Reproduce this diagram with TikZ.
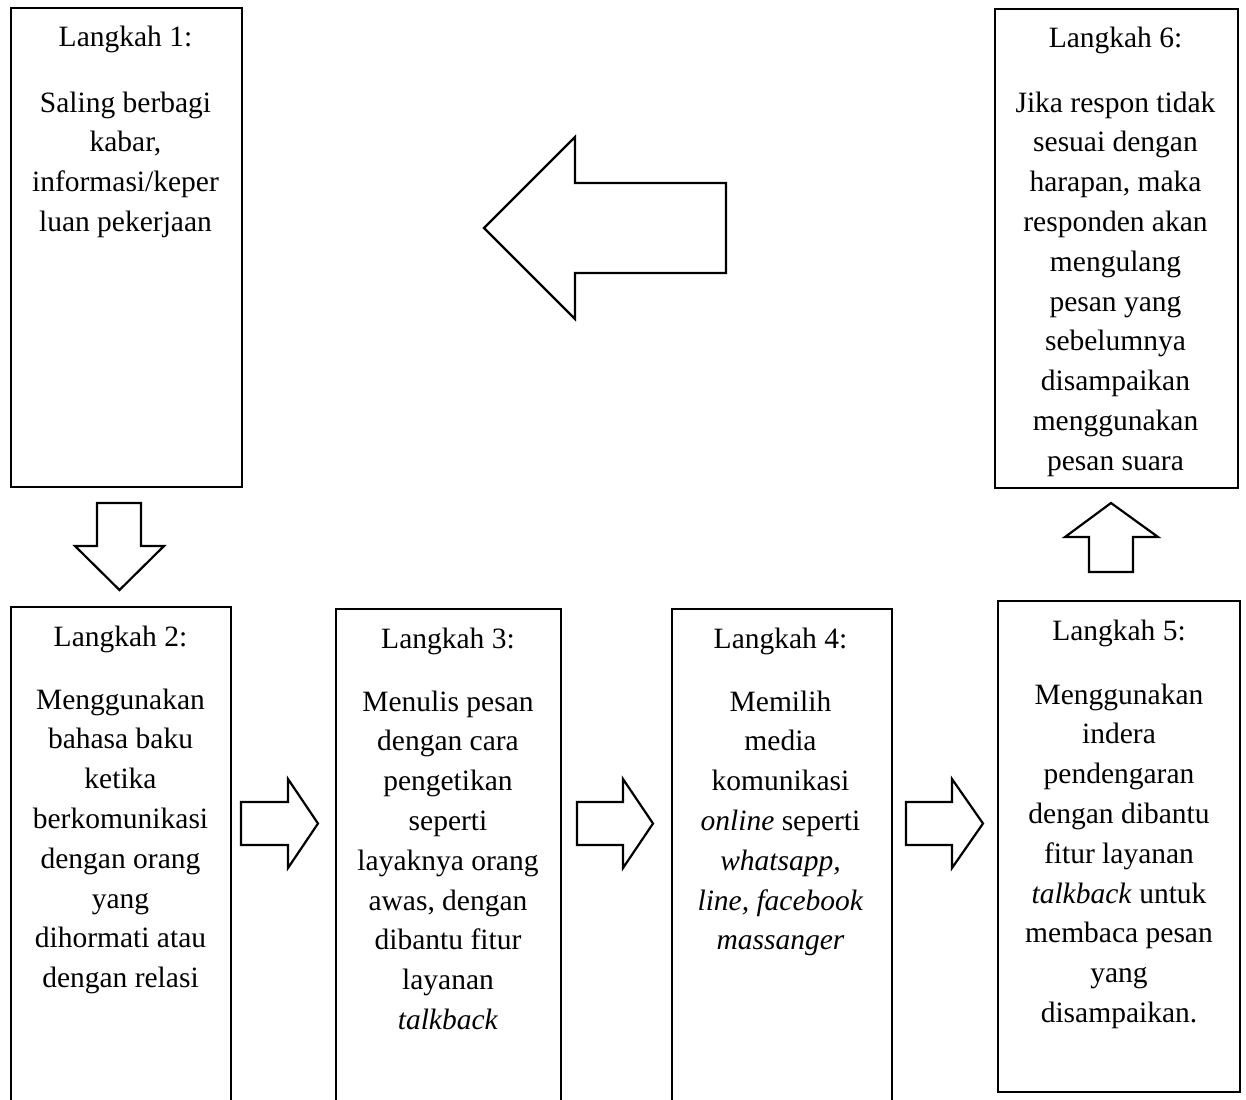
\documentclass[tikz,border=0pt]{standalone}
\usepackage{fontspec}
\setmainfont{Liberation Serif}
\begin{document}
\begin{tikzpicture}[x=1pt,y=-1pt,
  stepbox/.style={draw, line width=1.6pt, inner sep=0pt, anchor=north west},
  titletxt/.style={inner sep=0pt, anchor=base, font=\fontsize{29.5}{39.8}\selectfont},
  bodytxt/.style={inner sep=0pt, anchor=north, align=center, font=\fontsize{29.5}{39.8}\selectfont},
  blockarrow/.style={draw, line width=2.2pt, fill=white, line join=miter}]
\useasboundingbox (0,0) rectangle (1246,1099);
\clip (0,0) rectangle (1246,1099);
% boxes
\node[stepbox, minimum width=231pt, minimum height=479pt] (b1) at (10,7) {};
\node[stepbox, minimum width=220pt, minimum height=510pt] (b2) at (10,606) {};
\node[stepbox, minimum width=225pt, minimum height=510pt] (b3) at (335,608) {};
\node[stepbox, minimum width=220pt, minimum height=510pt] (b4) at (671,608) {};
\node[stepbox, minimum width=242pt, minimum height=491pt] (b5) at (997,600) {};
\node[stepbox, minimum width=243pt, minimum height=479pt] (b6) at (994,8) {};
% titles
\node[titletxt] (t1) at (125.5,47) {Langkah 1:};
\node[titletxt] (t2) at (120.5,646) {Langkah 2:};
\node[titletxt] (t3) at (448,648) {Langkah 3:};
\node[titletxt] (t4) at (780.5,648) {Langkah 4:};
\node[titletxt] (t5) at (1119,640) {Langkah 5:};
\node[titletxt] (t6) at (1115.5,48) {Langkah 6:};
% bodies
\node[bodytxt] (x1) at (125.5,84.1) {\strut Saling berbagi\\kabar,\\informasi/keper\\luan pekerjaan};
\node[bodytxt] (x2) at (120.5,681.1) {\strut Menggunakan\\bahasa baku\\ketika\\berkomunikasi\\dengan orang\\yang\\dihormati atau\\dengan relasi};
\node[bodytxt] (x3) at (448,683.1) {\strut Menulis pesan\\dengan cara\\pengetikan\\seperti\\layaknya orang\\awas, dengan\\dibantu fitur\\layanan\\\textit{talkback}};
\node[bodytxt] (x4) at (780.5,683.1) {\strut Memilih\\media\\komunikasi\\\textit{online} seperti\\\textit{whatsapp,}\\\textit{line, facebook}\\\textit{massanger}};
\node[bodytxt] (x5) at (1119,676.1) {\strut Menggunakan\\indera\\pendengaran\\dengan dibantu\\fitur layanan\\\textit{talkback} untuk\\membaca pesan\\yang\\disampaikan.};
\node[bodytxt] (x6) at (1115.5,84.1) {\strut Jika respon tidak\\sesuai dengan\\harapan, maka\\responden akan\\mengulang\\pesan yang\\sebelumnya\\disampaikan\\menggunakan\\pesan suara};
% block arrows
\draw[blockarrow] (726,183) -- (575,183) -- (575,137) -- (484,228) -- (575,319) -- (575,273) -- (726,273) -- cycle;
\draw[blockarrow] (97,503) -- (141,503) -- (141,546) -- (164,546) -- (119.5,590) -- (75,546) -- (97,546) -- cycle;
\draw[blockarrow] (241,802) -- (288,802) -- (288,779) -- (318,823.5) -- (288,868) -- (288,845) -- (241,845) -- cycle;
\draw[blockarrow] (577,802) -- (623,802) -- (623,779) -- (653,823.5) -- (623,868) -- (623,845) -- (577,845) -- cycle;
\draw[blockarrow] (906,802) -- (952,802) -- (952,779) -- (983,823.5) -- (952,868) -- (952,845) -- (906,845) -- cycle;
\draw[blockarrow] (1089,572) -- (1133,572) -- (1133,537) -- (1158,537) -- (1111,503) -- (1065,537) -- (1089,537) -- cycle;
\end{tikzpicture}
\end{document}
